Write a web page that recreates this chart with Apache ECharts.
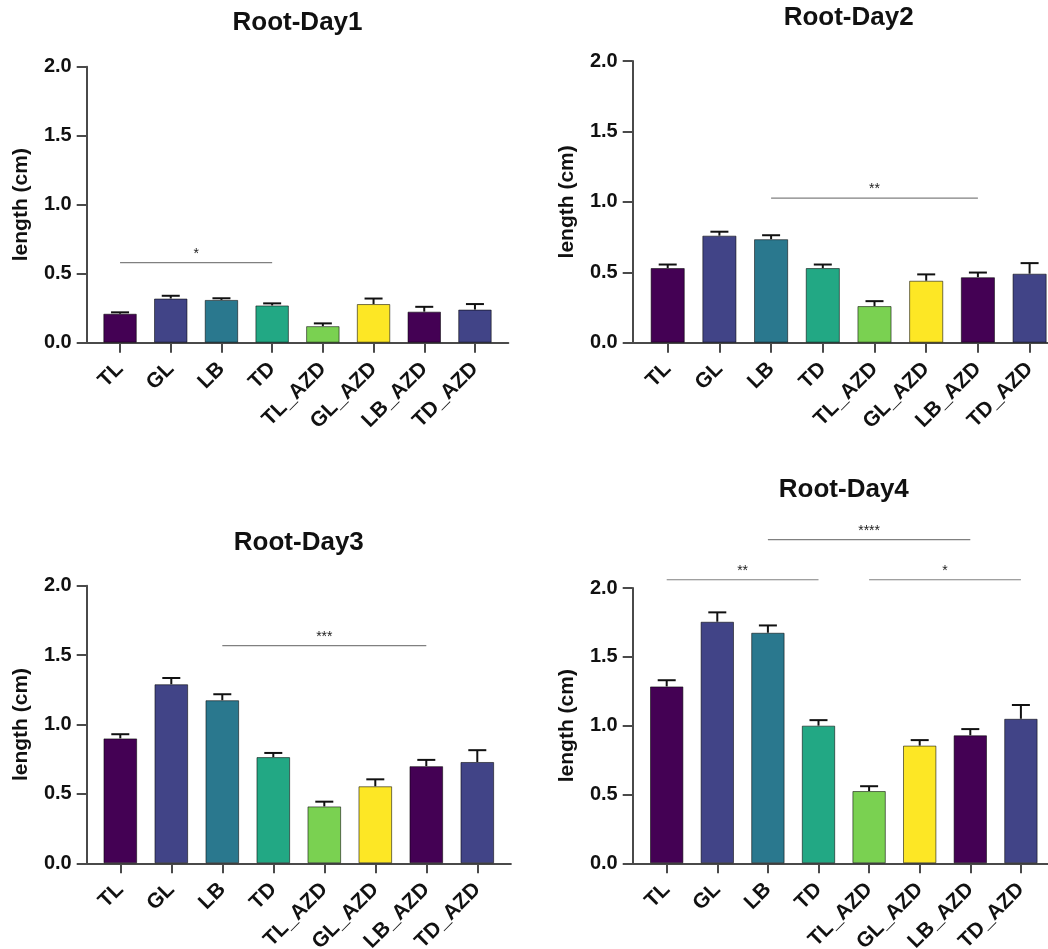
<!DOCTYPE html>
<html><head><meta charset="utf-8">
<script src="https://cdn.jsdelivr.net/npm/echarts@6/dist/echarts.min.js"></script>
<style>html,body{margin:0;padding:0;background:#fff}#c{width:1048px;height:949px}</style>
</head><body><div id="c"></div>
<script>
const categories = ['TL','GL','LB','TD','TL_AZD','GL_AZD','LB_AZD','TD_AZD'];
const titles = ['Root-Day1','Root-Day2','Root-Day3','Root-Day4'];

const day1Mean = [0.21, 0.32, 0.31, 0.27, 0.12, 0.28, 0.225, 0.24];
const day1Err  = [0.01, 0.02, 0.012, 0.015, 0.02, 0.04, 0.035, 0.04];
const day2Mean = [0.53, 0.76, 0.735, 0.53, 0.26, 0.44, 0.465, 0.49];
const day2Err  = [0.025, 0.028, 0.028, 0.025, 0.035, 0.045, 0.033, 0.075];
const day3Mean = [0.90, 1.29, 1.175, 0.765, 0.41, 0.555, 0.70, 0.73];
const day3Err  = [0.03, 0.045, 0.043, 0.03, 0.034, 0.05, 0.045, 0.085];
const day4Mean = [1.285, 1.755, 1.675, 1.00, 0.525, 0.855, 0.93, 1.05];
const day4Err  = [0.045, 0.068, 0.053, 0.04, 0.035, 0.04, 0.045, 0.10];

// significance brackets: [from category index, to category index, y value, label]
const day1Sig = [[0, 3, 0.58, '*']];
const day2Sig = [[2, 6, 1.026, '**']];
const day3Sig = [[2, 6, 1.568, '***']];
const day4Sig = [[2, 6, 2.351, '****'], [0, 3, 2.06, '**'], [4, 7, 2.06, '*']];

const yTicksMin = 0, yTicksMax = 2, yTickStep = 0.5;

const barColors = ['#440154','#414487','#2a788e','#22a884','#7ad151','#fde725','#440154','#414487'];

const means = [day1Mean, day2Mean, day3Mean, day4Mean];
const errs = [day1Err, day2Err, day3Err, day4Err];
const sigs = [day1Sig, day2Sig, day3Sig, day4Sig];

// layout (pixels)
const layouts = [
  {axisX: 86.7,  catStart: 94.7,  catW: 50.7, top: 66.7,  bottom: 342.7, titleTop: 10},
  {axisX: 632.7, catStart: 641.85, catW: 51.7, top: 61,    bottom: 342.7, titleTop: 5},
  {axisX: 86.7,  catStart: 94.8,  catW: 51.0, top: 585.7, bottom: 863.3, titleTop: 530},
  {axisX: 632.7, catStart: 641.4, catW: 50.6, top: 588,   bottom: 863.3, titleTop: 477}
];

const FONT = 'Liberation Sans, Arial, Helvetica, sans-serif';
const AXIS_COLOR = '#4a4a4a';
const TEXT_COLOR = '#111';

const option = {
  backgroundColor: '#fff',
  animation: false,
  title: [], grid: [], xAxis: [], yAxis: [], series: []
};

layouts.forEach((L, p) => {
  const catEnd = L.catStart + 8 * L.catW;
  const lineEnd = catEnd + (L.catStart - L.axisX);
  option.title.push({
    text: titles[p], left: (L.axisX + lineEnd) / 2, top: L.titleTop, textAlign: 'center', padding: 0,
    textStyle: {fontSize: 26, fontWeight: 'bold', color: TEXT_COLOR, fontFamily: FONT}
  });
  option.grid.push({left: L.catStart, top: L.top, width: 8 * L.catW, height: L.bottom - L.top, outerBoundsMode: 'none', containLabel: false});
  option.grid.push({left: L.axisX, top: L.top, width: lineEnd - L.axisX, height: L.bottom - L.top, outerBoundsMode: 'none', containLabel: false});

  option.xAxis.push({
    type: 'category', gridIndex: 2 * p, data: categories,
    axisLine: {show: false},
    axisTick: {show: true, alignWithLabel: true, length: 10, lineStyle: {color: AXIS_COLOR, width: 2}},
    axisLabel: {interval: 0, rotate: 45, fontSize: 21, fontWeight: 'bold', color: TEXT_COLOR, fontFamily: FONT, margin: 23},
    splitLine: {show: false}
  });
  option.xAxis.push({
    type: 'value', gridIndex: 2 * p + 1, min: 0, max: 1,
    axisLine: {show: true, lineStyle: {color: AXIS_COLOR, width: 2}},
    axisTick: {show: false}, axisLabel: {show: false}, splitLine: {show: false}
  });
  option.yAxis.push({
    type: 'value', gridIndex: 2 * p, min: yTicksMin, max: yTicksMax, interval: yTickStep,
    offset: L.catStart - L.axisX,
    axisLine: {show: true, lineStyle: {color: AXIS_COLOR, width: 2}},
    axisTick: {show: true, length: 10, lineStyle: {color: AXIS_COLOR, width: 2}},
    axisLabel: {fontSize: 20, fontWeight: 'bold', color: TEXT_COLOR, fontFamily: FONT, margin: 15,
      formatter: v => v.toFixed(1)},
    splitLine: {show: false},
    name: 'length (cm)', nameLocation: 'middle', nameGap: 55,
    nameTextStyle: {fontSize: 21, fontWeight: 'bold', color: TEXT_COLOR, fontFamily: FONT}
  });
  option.yAxis.push({type: 'value', gridIndex: 2 * p + 1, min: 0, max: 1, show: false});

  const mean = means[p], err = errs[p], sig = sigs[p];
  option.series.push({
    type: 'bar', xAxisIndex: 2 * p, yAxisIndex: 2 * p, barWidth: '66%',
    data: mean.map((v, i) => ({value: v, itemStyle: {color: barColors[i]}})),
    itemStyle: {borderColor: 'rgba(0,0,0,0.55)', borderWidth: 1},
    z: 2
  });
  option.series.push({
    type: 'custom', xAxisIndex: 2 * p, yAxisIndex: 2 * p, z: 3,
    data: mean.map((v, i) => [i, v, err[i]]),
    encode: {x: 0, y: 1},
    renderItem: (params, api) => {
      const x = api.value(0), m = api.value(1), e = api.value(2);
      const p0 = api.coord([x, m]);
      const p1 = api.coord([x, m + e]);
      const hw = 9;
      return {type: 'group', children: [
        {type: 'line', shape: {x1: p0[0], y1: p0[1], x2: p1[0], y2: p1[1]}, style: {stroke: '#111', lineWidth: 2}},
        {type: 'line', shape: {x1: p1[0] - hw, y1: p1[1], x2: p1[0] + hw, y2: p1[1]}, style: {stroke: '#111', lineWidth: 2}}
      ]};
    }
  });
  option.series.push({
    type: 'custom', xAxisIndex: 2 * p, yAxisIndex: 2 * p, z: 4, clip: false,
    data: sig.map(s => [s[0], s[1], s[2]]),
    encode: {x: [0, 1], y: 2},
    renderItem: (params, api) => {
      const a = api.coord([api.value(0), api.value(2)]);
      const b = api.coord([api.value(1), api.value(2)]);
      const label = sig[params.dataIndex][3];
      return {type: 'group', children: [
        {type: 'line', shape: {x1: a[0], y1: a[1], x2: b[0], y2: b[1]}, style: {stroke: '#808080', lineWidth: 1.2}},
        {type: 'text', x: (a[0] + b[0]) / 2, y: a[1] - 2,
          style: {text: label, fill: '#222', font: '14px ' + FONT, align: 'center', verticalAlign: 'bottom'}}
      ]};
    }
  });
});

const chart = echarts.init(document.getElementById('c'), null, {renderer: 'canvas'});
chart.setOption(option);
</script>
</body></html>
